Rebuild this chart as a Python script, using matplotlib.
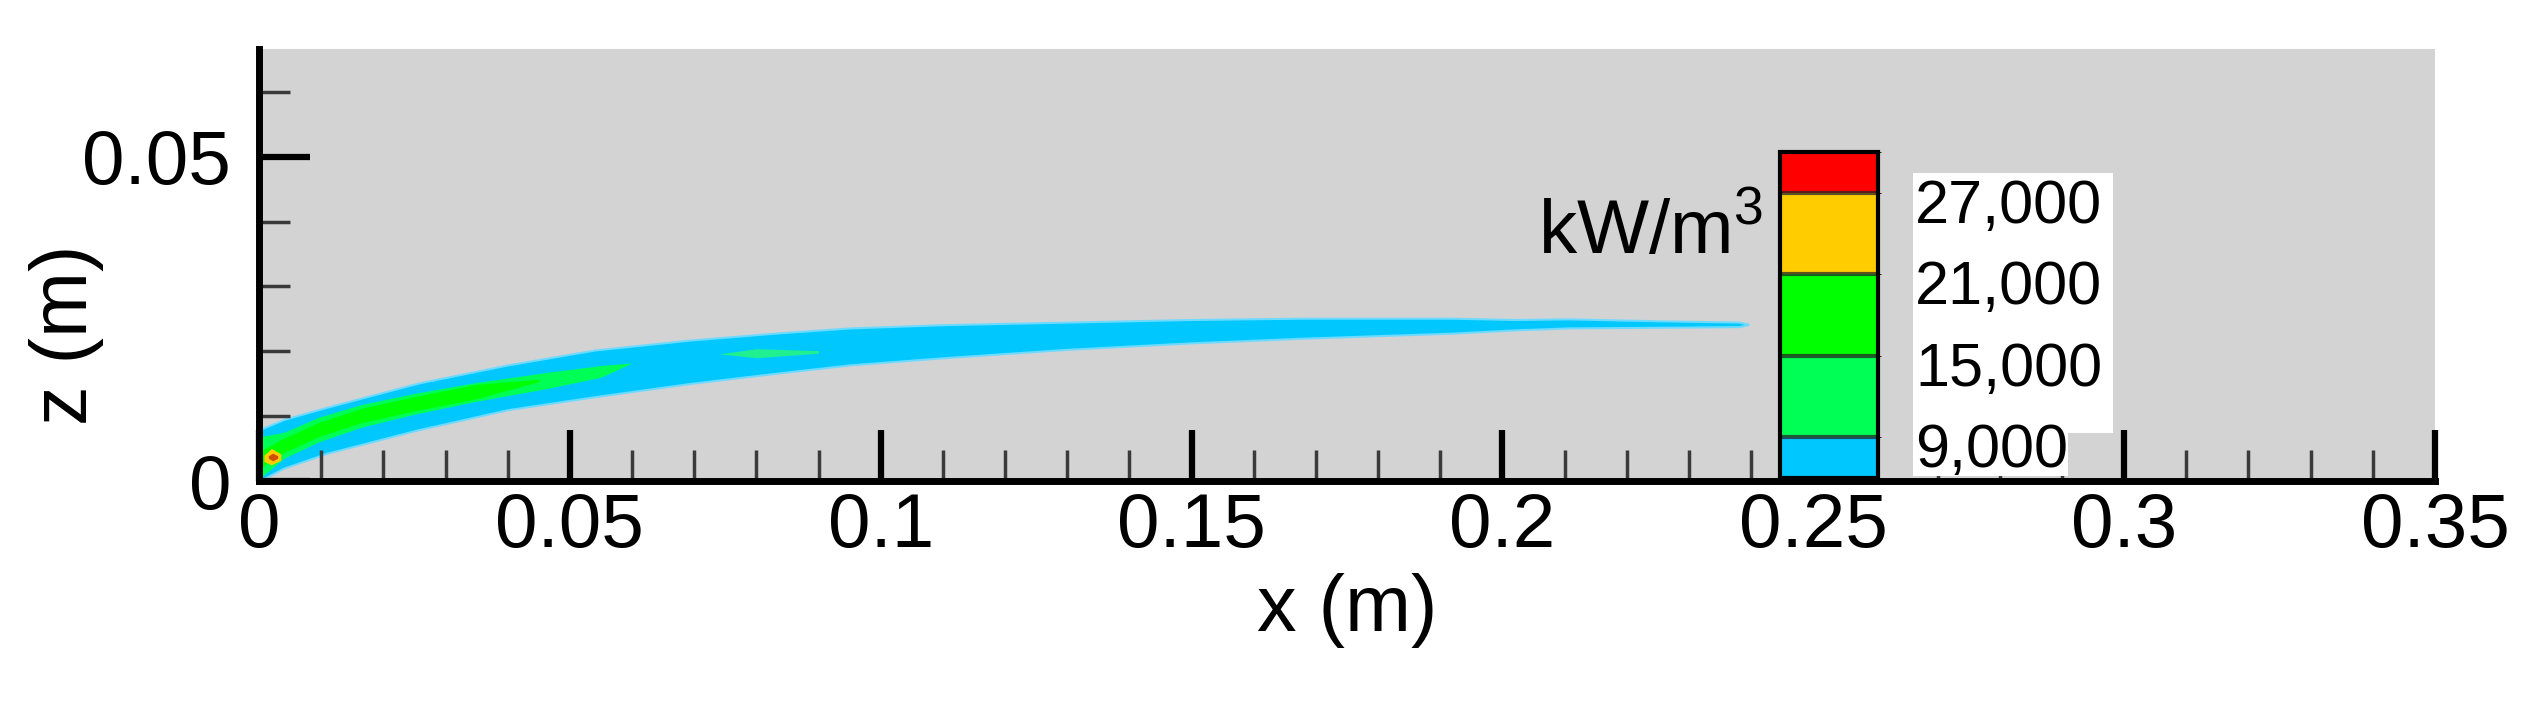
import numpy as np
import matplotlib
matplotlib.use("Agg")
import matplotlib.pyplot as plt
from matplotlib.colors import ListedColormap, BoundaryNorm
from matplotlib.cm import ScalarMappable
from matplotlib.patches import Rectangle
from matplotlib.transforms import offset_copy

plt.rcParams['font.family'] = ['Liberation Sans', 'DejaVu Sans']
plt.rcParams['mathtext.fontset'] = 'custom'
plt.rcParams['mathtext.rm'] = 'Liberation Sans'

# contour levels (kW/m^3) and their colours
levels = [6000, 9000, 15000, 21000, 27000, 30000]
level_colors = ['#00C8FF', '#00FF55', '#00FF00', '#FFCC00', '#FF0000']
cbar_ticks = [9000, 15000, 21000, 27000]
cbar_labels = ['9,000', '15,000', '21,000', '27,000']

# plume outline (outer level, > 6000), metres
x_outer = [0.0, 0.004, 0.011, 0.0256, 0.040, 0.054, 0.069, 0.083, 0.095, 0.110,
           0.130, 0.150, 0.1675, 0.192, 0.202, 0.2106, 0.225, 0.238, 0.2395]
z_outer_top = [0.0079, 0.0095, 0.0114, 0.0151, 0.0179, 0.0202, 0.0217, 0.0228, 0.0236, 0.0241,
               0.0245, 0.0249, 0.0251, 0.0251, 0.0249, 0.0250, 0.0247, 0.0245, 0.0242]
z_outer_bot = [0.0, 0.0020, 0.0043, 0.0079, 0.0110, 0.0130, 0.0150, 0.0166, 0.0179, 0.0190,
               0.0203, 0.0213, 0.0220, 0.0228, 0.0233, 0.0236, 0.0237, 0.0238, 0.0241]

# > 9000 band
x_mid = [0.0, 0.004, 0.0095, 0.0165, 0.025, 0.035, 0.046, 0.055, 0.060]
z_mid_top = [0.0068, 0.0075, 0.0098, 0.0118, 0.0135, 0.0152, 0.0167, 0.0178, 0.0182]
z_mid_bot = [0.0003, 0.0035, 0.0060, 0.0083, 0.0103, 0.0123, 0.0142, 0.0160, 0.0182]

# small patch further out
x_mid2 = [0.074, 0.080, 0.090]
z_mid2_top = [0.0196, 0.0204, 0.0201]
z_mid2_bot = [0.0196, 0.0190, 0.0197]

# > 15000 core
x_core = [0.0005, 0.004, 0.0095, 0.0165, 0.025, 0.035, 0.045]
z_core_top = [0.0048, 0.0066, 0.0090, 0.0112, 0.0130, 0.0149, 0.0157]
z_core_bot = [0.0022, 0.0044, 0.0068, 0.0090, 0.0108, 0.0127, 0.0153]

# > 21000 spot and > 27000 spot at the nozzle
x_hot = [0.0008, 0.0020, 0.0035]
z_hot_top = [0.0040, 0.0050, 0.0042]
z_hot_bot = [0.0030, 0.0025, 0.0032]
x_peak = [0.0015, 0.0022, 0.0030]
z_peak_top = [0.0039, 0.0043, 0.0039]
z_peak_bot = [0.0035, 0.0031, 0.0035]

x_major = [0, 0.05, 0.1, 0.15, 0.2, 0.25, 0.3, 0.35]
x_major_labels = ['0', '0.05', '0.1', '0.15', '0.2', '0.25', '0.3', '0.35']
z_major = [0, 0.05]
z_major_labels = ['0', '0.05']

W, H = 2539, 724
fig = plt.figure(figsize=(W/100, H/100), dpi=100)
ax = fig.add_axes([259/W, 1-481/H, (2435-259)/W, 432/H])
ax.set_facecolor('#D3D3D3')
ax.set_xlim(0, 0.35)
ax.set_ylim(0, 0.0666)

ax.fill_between(x_outer, z_outer_bot, z_outer_top, color=level_colors[0], ec='#6FDAFF', lw=1.5, zorder=1)
ax.fill_between(x_mid, z_mid_bot, z_mid_top, color=level_colors[1], lw=0, zorder=1.1)
ax.fill_between(x_mid2, z_mid2_bot, z_mid2_top, color='#20F090', lw=0, zorder=1.1)
ax.fill_between(x_core, z_core_bot, z_core_top, color=level_colors[2], lw=0, zorder=1.2)
ax.fill_between(x_hot, z_hot_bot, z_hot_top, color=level_colors[3], lw=0, zorder=1.3)
ax.fill_between(x_peak, z_peak_bot, z_peak_top, color='#D05000', lw=0, zorder=1.4)

# white box behind the legend labels
ax.add_patch(Rectangle((0.2660, 0.0074), 0.0322, 0.0401, fc='white', ec='none', zorder=3))
ax.add_patch(Rectangle((0.2660, 0.0008), 0.0250, 0.0070, fc='white', ec='none', zorder=3))

for s in ['top', 'right']:
    ax.spines[s].set_visible(False)
for s in ['left', 'bottom']:
    ax.spines[s].set_linewidth(5)
    ax.spines[s].set_capstyle('projecting')

ax.set_xticks(x_major)
ax.set_xticklabels(x_major_labels)
ax.set_xticks(np.arange(0.01, 0.35, 0.01), minor=True)
ax.set_yticks(z_major)
ax.set_yticklabels(z_major_labels)
ax.set_yticks(np.arange(0.01, 0.065, 0.01), minor=True)
ax.tick_params(which='major', direction='in', length=37, width=4.5, color='black', labelsize=55)
ax.tick_params(which='minor', direction='in', length=22, width=2.5, color='#3A3A3A')
ax.tick_params(axis='x', which='major', pad=8)
ax.tick_params(axis='y', which='major', pad=20)

ax.set_xlabel('x (m)', fontsize=57, ha='center', va='center')
ax.xaxis.set_label_coords(0.5, (481-610)/432)
ax.set_ylabel('z (m)', fontsize=57, ha='center', va='center')
ax.yaxis.set_label_coords((66-259)/2176, (481-335)/432)

# legend bar
cax = fig.add_axes([1780/W, 1-478/H, 98/W, 326/H])
cmap = ListedColormap(level_colors)
norm = BoundaryNorm(levels, cmap.N)
cb = fig.colorbar(ScalarMappable(norm=norm, cmap=cmap), cax=cax,
                  spacing='proportional', drawedges=True)
cb.set_ticks([])
cb.outline.set_linewidth(3)
cb.outline.set_edgecolor('black')
cb.dividers.set_color('#262626')
cb.dividers.set_linewidth(3)
cb.dividers.set_alpha(0.75)

lab_trans = offset_copy(cax.get_yaxis_transform(), fig=fig, x=0, y=-0.30, units='inches')
for v, s in zip(cbar_ticks, cbar_labels):
    cax.text(1.378, v, s, transform=lab_trans, ha='left', va='baseline', fontsize=44)

cax.text(-0.17, (478-255)/326, 'kW/m$^3$', transform=cax.transAxes, ha='right',
         va='baseline', fontsize=55)

fig.savefig('out.png', dpi=100, facecolor='white')
